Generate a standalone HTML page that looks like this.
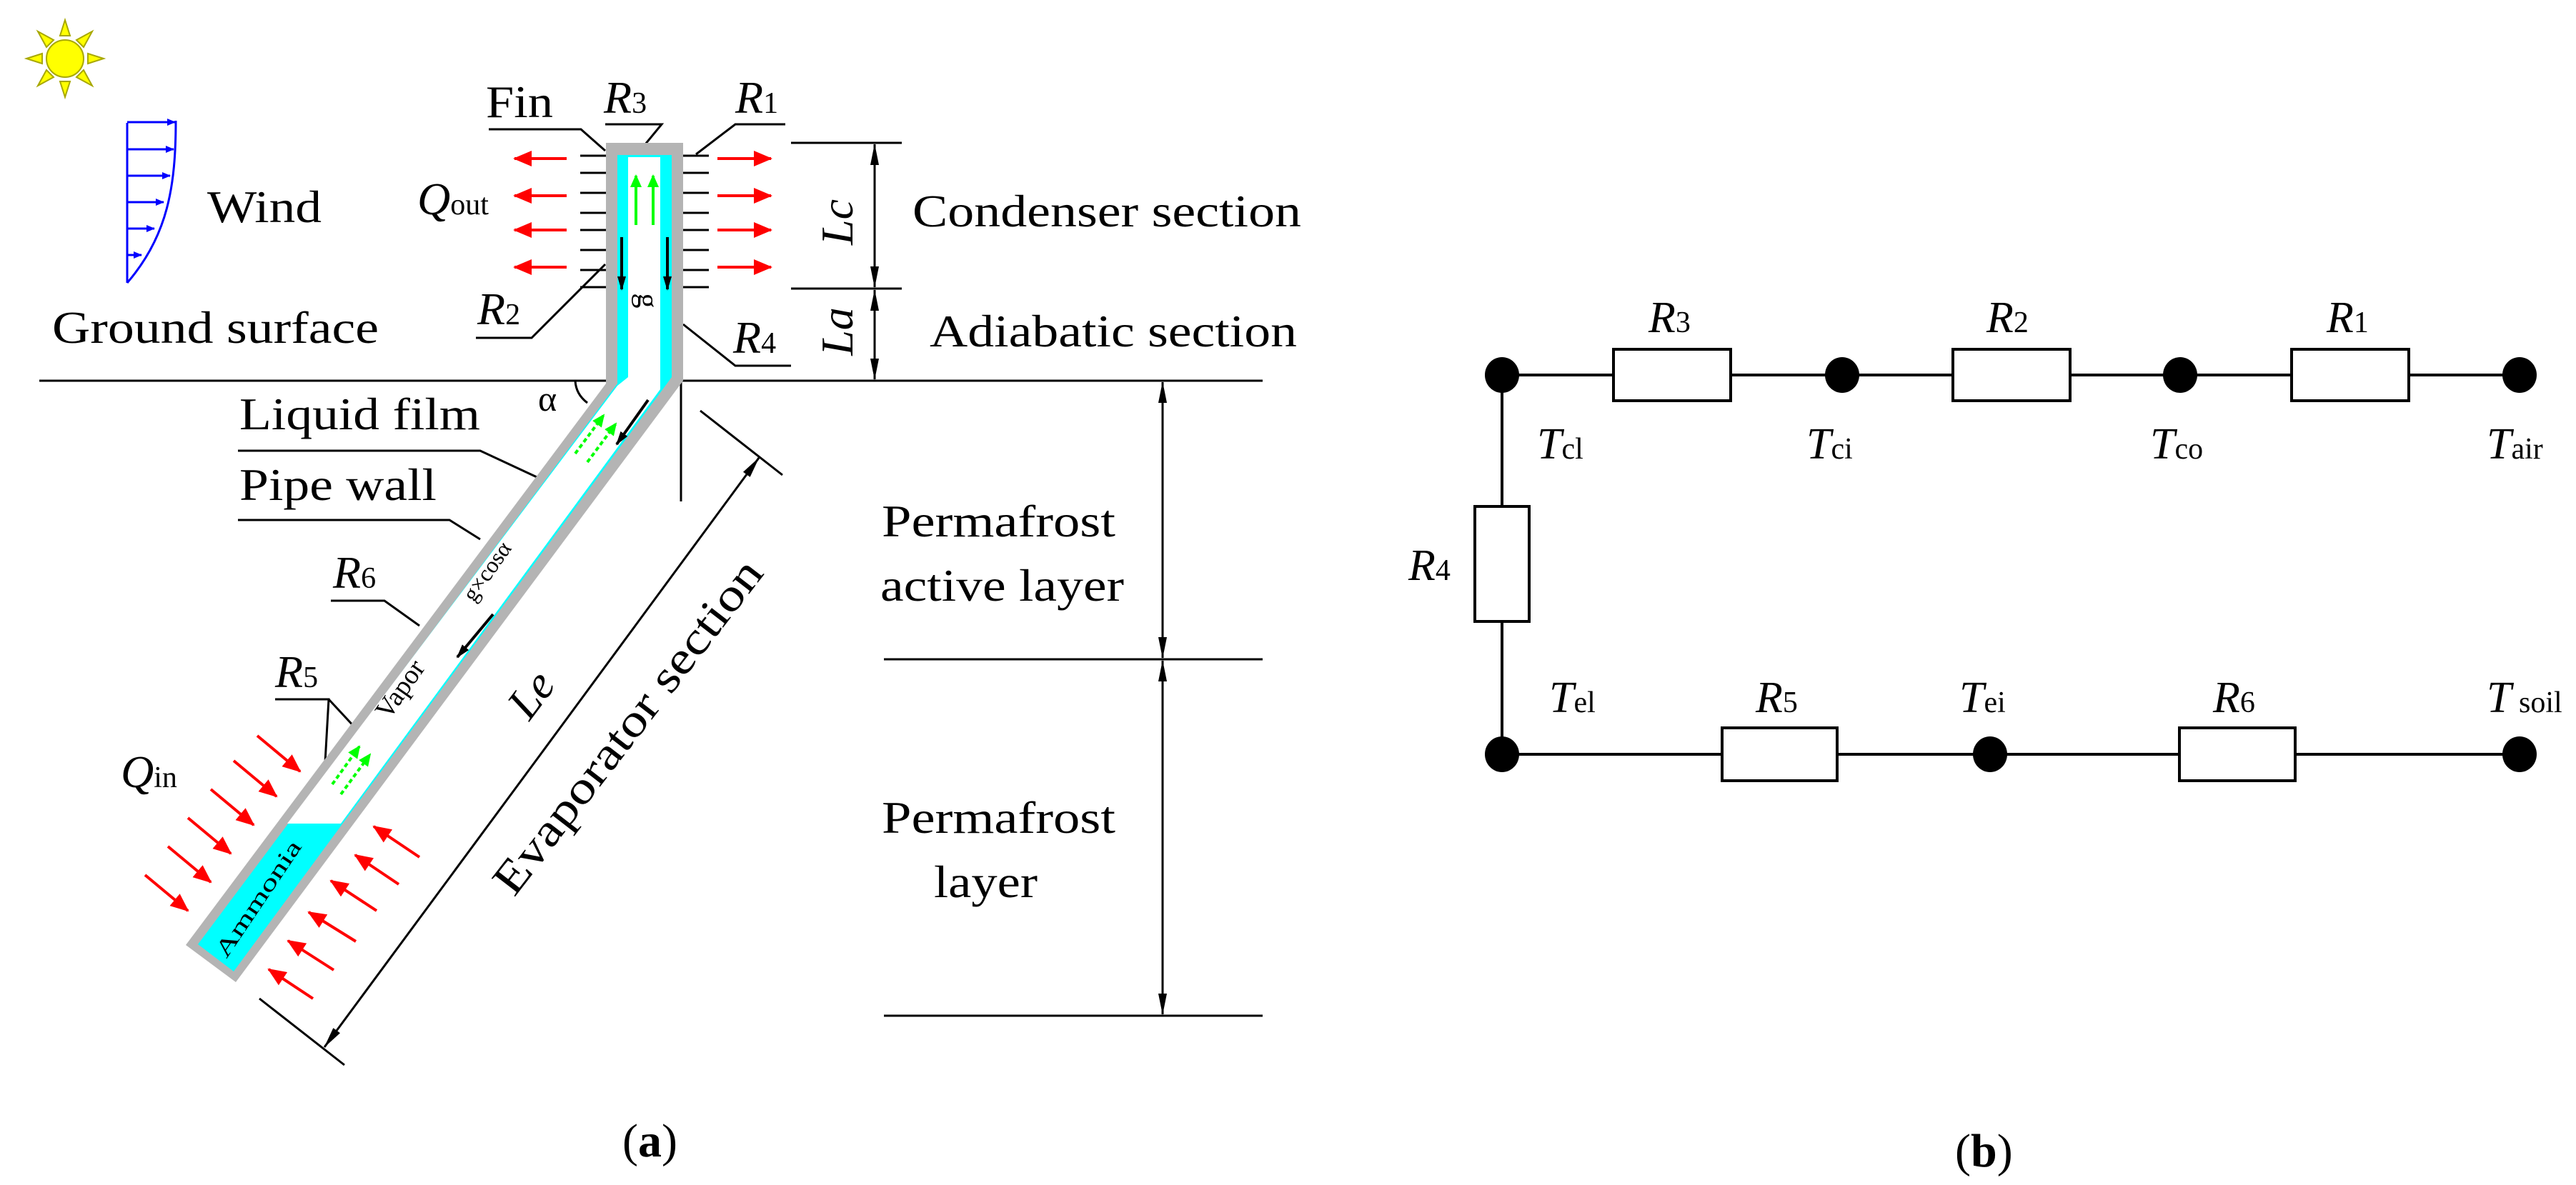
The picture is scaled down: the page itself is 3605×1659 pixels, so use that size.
<!DOCTYPE html>
<html><head><meta charset="utf-8"><style>
html,body{margin:0;padding:0;background:#fff;}
svg{display:block;}
svg text{font-family:"Liberation Serif","DejaVu Serif","Times New Roman",serif;fill:#000;}
.i{font-style:italic;}
</style></head><body>
<svg width="3605" height="1659" viewBox="0 0 3605 1659" xmlns="http://www.w3.org/2000/svg" font-family="Liberation Serif, DejaVu Serif, serif">
<defs>
<marker id="rh" markerUnits="userSpaceOnUse" markerWidth="26" markerHeight="22" refX="24" refY="11" orient="auto"><path d="M0,0 L26,11 L0,22 Z" fill="#ff0000"/></marker>
<marker id="gh" markerUnits="userSpaceOnUse" markerWidth="18" markerHeight="16" refX="16" refY="8" orient="auto"><path d="M0,0 L18,8 L0,16 Z" fill="#00ff00"/></marker>
<marker id="kh" markerUnits="userSpaceOnUse" markerWidth="20" markerHeight="12" refX="18" refY="6" orient="auto"><path d="M0,0 L20,6 L0,12 Z" fill="#000"/></marker>
<marker id="dh" markerUnits="userSpaceOnUse" markerWidth="30" markerHeight="12" refX="29" refY="6" orient="auto"><path d="M0,0 L30,6 L0,12 Z" fill="#000"/></marker>
<marker id="bh" markerUnits="userSpaceOnUse" markerWidth="12" markerHeight="10" refX="11" refY="5" orient="auto"><path d="M0,0 L12,5 L0,10 Z" fill="#0000ff"/></marker>
</defs>

<!-- Sun -->
<g stroke="#a8a800" stroke-width="2" fill="#ffff00">
<path d="M91,28 L84,50 L98,50 Z"/><path d="M91,136 L84,114 L98,114 Z"/>
<path d="M37,82 L59,75 L59,89 Z"/><path d="M145,82 L123,75 L123,89 Z"/>
<path d="M53,44 L75,56 L65,66 Z"/><path d="M129,44 L117,66 L107,56 Z"/>
<path d="M53,120 L65,98 L75,108 Z"/><path d="M129,120 L107,108 L117,98 Z"/>
<circle cx="91" cy="82" r="26"/>
</g>

<!-- Wind -->
<g stroke="#0000ff" stroke-width="3" fill="none">
<line x1="178" y1="172" x2="178" y2="396"/>
<path d="M246,169 C246,260 235,330 178,396"/>
<line x1="178" y1="171" x2="245" y2="171" marker-end="url(#bh)"/>
<line x1="178" y1="209" x2="243" y2="209" marker-end="url(#bh)"/>
<line x1="178" y1="246" x2="238" y2="246" marker-end="url(#bh)"/>
<line x1="178" y1="283" x2="229" y2="283" marker-end="url(#bh)"/>
<line x1="178" y1="320" x2="216" y2="320" marker-end="url(#bh)"/>
<line x1="178" y1="357" x2="198" y2="357" marker-end="url(#bh)"/>
</g>

<g stroke="#000" stroke-width="3" fill="none">
<line x1="55" y1="533" x2="850" y2="533"/>
<line x1="953" y1="533" x2="1767" y2="533"/>
<line x1="953" y1="533" x2="953" y2="702"/>
<line x1="1107" y1="200" x2="1262" y2="200"/>
<line x1="1107" y1="404" x2="1262" y2="404"/>
<line x1="1224" y1="300" x2="1224" y2="202" marker-end="url(#dh)"/>
<line x1="1224" y1="300" x2="1224" y2="402" marker-end="url(#dh)"/>
<line x1="1224" y1="470" x2="1224" y2="406" marker-end="url(#dh)"/>
<line x1="1224" y1="470" x2="1224" y2="531" marker-end="url(#dh)"/>
<line x1="1237" y1="923" x2="1767" y2="923"/>
<line x1="1237" y1="1422" x2="1767" y2="1422"/>
<line x1="1627" y1="720" x2="1627" y2="535" marker-end="url(#dh)"/>
<line x1="1627" y1="720" x2="1627" y2="921" marker-end="url(#dh)"/>
<line x1="1627" y1="1170" x2="1627" y2="925" marker-end="url(#dh)"/>
<line x1="1627" y1="1170" x2="1627" y2="1420" marker-end="url(#dh)"/>
<line x1="363" y1="1398" x2="482" y2="1491"/>
<line x1="980" y1="575" x2="1095" y2="665"/>
<line x1="758" y1="1054" x2="454" y2="1466" marker-end="url(#dh)"/>
<line x1="758" y1="1054" x2="1062" y2="641" marker-end="url(#dh)"/>
<polyline points="684,181 813,181 847,211"/>
<polyline points="847,174 926,174 870,242"/>
<polyline points="1099,174 1029,174 974,216"/>
<polyline points="666,473 744,473 847,370"/>
<polyline points="1107,512 1029,512 956,454"/>
<path d="M805,533 Q806,552 822,564"/>
<polyline points="333,631 672,631 805,693"/>
<polyline points="333,728 629,728 672,755"/>
<polyline points="463,841 538,841 587,876"/>
<polyline points="385,979 460,979 450,1155"/>
<polyline points="460,979 526,1050"/>
<g>
<line x1="812" y1="218" x2="852" y2="218"/><line x1="812" y1="242" x2="852" y2="242"/>
<line x1="812" y1="270" x2="852" y2="270"/><line x1="812" y1="298" x2="852" y2="298"/>
<line x1="812" y1="322" x2="852" y2="322"/><line x1="812" y1="350" x2="852" y2="350"/>
<line x1="812" y1="378" x2="852" y2="378"/><line x1="812" y1="402" x2="852" y2="402"/>
<line x1="953" y1="218" x2="992" y2="218"/><line x1="953" y1="242" x2="992" y2="242"/>
<line x1="953" y1="270" x2="992" y2="270"/><line x1="953" y1="298" x2="992" y2="298"/>
<line x1="953" y1="322" x2="992" y2="322"/><line x1="953" y1="350" x2="992" y2="350"/>
<line x1="953" y1="378" x2="992" y2="378"/><line x1="953" y1="402" x2="992" y2="402"/>
</g>
</g>

<!-- Pipe -->
<polygon points="848,200 956,200 956,533 330,1375 260,1323 848,537" fill="#b4b4b4"/>
<polygon points="864,217 940,217 940,528 327,1360 277,1322 864,537" fill="#00ffff"/>
<polygon points="879,220 924,220 924,545 477,1153 402,1153 864,540 879,528" fill="#fff"/>

<g stroke-width="4" fill="none">
<line x1="890" y1="315" x2="890" y2="246" stroke="#00ff00" marker-end="url(#gh)"/>
<line x1="914" y1="315" x2="914" y2="246" stroke="#00ff00" marker-end="url(#gh)"/>
<line x1="870" y1="332" x2="870" y2="405" stroke="#000" marker-end="url(#kh)"/>
<line x1="934" y1="332" x2="934" y2="405" stroke="#000" marker-end="url(#kh)"/>
<line x1="805" y1="635" x2="845" y2="581" stroke="#00ff00" stroke-dasharray="6 4" marker-end="url(#gh)"/>
<line x1="822" y1="647" x2="862" y2="593" stroke="#00ff00" stroke-dasharray="6 4" marker-end="url(#gh)"/>
<line x1="907" y1="560" x2="863" y2="622" stroke="#000" marker-end="url(#kh)"/>
<line x1="690" y1="860" x2="640" y2="920" stroke="#000" marker-end="url(#kh)"/>
<line x1="465" y1="1098" x2="503" y2="1045" stroke="#00ff00" stroke-dasharray="6 4" marker-end="url(#gh)"/>
<line x1="477" y1="1112" x2="518" y2="1056" stroke="#00ff00" stroke-dasharray="6 4" marker-end="url(#gh)"/>
</g>

<g stroke="#ff0000" stroke-width="4" fill="none">
<line x1="793" y1="222" x2="720" y2="222" marker-end="url(#rh)"/>
<line x1="793" y1="274" x2="720" y2="274" marker-end="url(#rh)"/>
<line x1="793" y1="322" x2="720" y2="322" marker-end="url(#rh)"/>
<line x1="793" y1="374" x2="720" y2="374" marker-end="url(#rh)"/>
<line x1="1004" y1="222" x2="1079" y2="222" marker-end="url(#rh)"/>
<line x1="1004" y1="274" x2="1079" y2="274" marker-end="url(#rh)"/>
<line x1="1004" y1="322" x2="1079" y2="322" marker-end="url(#rh)"/>
<line x1="1004" y1="374" x2="1079" y2="374" marker-end="url(#rh)"/>
<line x1="360" y1="1030" x2="420" y2="1080" marker-end="url(#rh)"/>
<line x1="327" y1="1065" x2="387" y2="1115" marker-end="url(#rh)"/>
<line x1="295" y1="1105" x2="355" y2="1155" marker-end="url(#rh)"/>
<line x1="263" y1="1145" x2="323" y2="1195" marker-end="url(#rh)"/>
<line x1="235" y1="1185" x2="295" y2="1235" marker-end="url(#rh)"/>
<line x1="203" y1="1225" x2="263" y2="1275" marker-end="url(#rh)"/>
<line x1="587" y1="1200" x2="523" y2="1157" marker-end="url(#rh)"/>
<line x1="558" y1="1238" x2="497" y2="1197" marker-end="url(#rh)"/>
<line x1="527" y1="1275" x2="463" y2="1233" marker-end="url(#rh)"/>
<line x1="498" y1="1318" x2="432" y2="1277" marker-end="url(#rh)"/>
<line x1="467" y1="1358" x2="403" y2="1317" marker-end="url(#rh)"/>
<line x1="438" y1="1398" x2="376" y2="1357" marker-end="url(#rh)"/>
</g>

<g font-size="64">
<text x="290" y="311" textLength="160" lengthAdjust="spacingAndGlyphs">Wind</text>
<text x="73" y="480" textLength="457" lengthAdjust="spacingAndGlyphs">Ground surface</text>
<text x="680" y="164" textLength="94" lengthAdjust="spacingAndGlyphs">Fin</text>
<text x="845" y="158"><tspan class="i">R</tspan><tspan font-size="42">3</tspan></text>
<text x="1029" y="158"><tspan class="i">R</tspan><tspan font-size="42">1</tspan></text>
<text x="584" y="300"><tspan class="i">Q</tspan><tspan font-size="42">out</tspan></text>
<text x="668" y="454"><tspan class="i">R</tspan><tspan font-size="42">2</tspan></text>
<text x="1026" y="494"><tspan class="i">R</tspan><tspan font-size="42">4</tspan></text>
<text class="i" x="0" y="0" text-anchor="middle" transform="translate(1193,311) rotate(-90)">Lc</text>
<text class="i" x="0" y="0" text-anchor="middle" transform="translate(1193,464) rotate(-90)">La</text>
<text x="1277" y="317" textLength="544" lengthAdjust="spacingAndGlyphs">Condenser section</text>
<text x="1301" y="485" textLength="514" lengthAdjust="spacingAndGlyphs">Adiabatic section</text>
<text x="753" y="575" font-size="50">α</text>
<text x="335" y="601" textLength="337" lengthAdjust="spacingAndGlyphs">Liquid film</text>
<text x="335" y="700" textLength="276" lengthAdjust="spacingAndGlyphs">Pipe wall</text>
<text x="466" y="823"><tspan class="i">R</tspan><tspan font-size="42">6</tspan></text>
<text x="385" y="962"><tspan class="i">R</tspan><tspan font-size="42">5</tspan></text>
<text x="169" y="1102"><tspan class="i">Q</tspan><tspan font-size="42">in</tspan></text>
<text x="1234" y="751" textLength="327" lengthAdjust="spacingAndGlyphs">Permafrost</text>
<text x="1232" y="841" textLength="341" lengthAdjust="spacingAndGlyphs">active layer</text>
<text x="1234" y="1166" textLength="327" lengthAdjust="spacingAndGlyphs">Permafrost</text>
<text x="1307" y="1256" textLength="145" lengthAdjust="spacingAndGlyphs">layer</text>
<text x="871" y="1619" font-size="66">(<tspan font-weight="bold">a</tspan>)</text>
<text class="i" x="0" y="0" text-anchor="middle" transform="translate(760,985) rotate(-53)">Le</text>
<text x="0" y="0" text-anchor="middle" textLength="574" lengthAdjust="spacingAndGlyphs" transform="translate(895,1030) rotate(-52.3)">Evaporator section</text>
<text x="0" y="0" text-anchor="middle" font-size="38" transform="translate(570,972) rotate(-55)">Vapor</text>
<text x="0" y="0" text-anchor="middle" font-size="32" transform="translate(690,806) rotate(-55)">g×cosα</text>
<text x="0" y="0" text-anchor="middle" font-size="32" fill="#002040" textLength="190" lengthAdjust="spacingAndGlyphs" transform="translate(370,1264) rotate(-56)">Ammonia</text>
<text x="0" y="0" text-anchor="middle" font-size="42" transform="translate(893,421) rotate(90)">g</text>
</g>

<!-- Part (b) -->
<g stroke="#000" stroke-width="4" fill="none">
<line x1="2102" y1="525" x2="3526" y2="525"/>
<line x1="2102" y1="525" x2="2102" y2="1056"/>
<line x1="2102" y1="1056" x2="3526" y2="1056"/>
</g>
<g stroke="#000" stroke-width="4" fill="#fff">
<rect x="2258" y="489" width="164" height="72"/>
<rect x="2733" y="489" width="164" height="72"/>
<rect x="3207" y="489" width="164" height="72"/>
<rect x="2064" y="709" width="76" height="161"/>
<rect x="2410" y="1019" width="161" height="74"/>
<rect x="3050" y="1019" width="162" height="74"/>
</g>
<g fill="#000">
<ellipse cx="2102" cy="525" rx="24" ry="25"/>
<ellipse cx="2578" cy="525" rx="24" ry="25"/>
<ellipse cx="3051" cy="525" rx="24" ry="25"/>
<ellipse cx="3526" cy="525" rx="24" ry="25"/>
<ellipse cx="2102" cy="1056" rx="24" ry="25"/>
<ellipse cx="2785" cy="1056" rx="24" ry="25"/>
<ellipse cx="3526" cy="1056" rx="24" ry="25"/>
</g>
<g font-size="62">
<text x="2307" y="465"><tspan class="i">R</tspan><tspan font-size="42">3</tspan></text>
<text x="2780" y="465"><tspan class="i">R</tspan><tspan font-size="42">2</tspan></text>
<text x="3256" y="465"><tspan class="i">R</tspan><tspan font-size="42">1</tspan></text>
<text x="2151" y="642"><tspan class="i">T</tspan><tspan font-size="42">cl</tspan></text>
<text x="2528" y="642"><tspan class="i">T</tspan><tspan font-size="42">ci</tspan></text>
<text x="3009" y="642"><tspan class="i">T</tspan><tspan font-size="42">co</tspan></text>
<text x="3480" y="642"><tspan class="i">T</tspan><tspan font-size="42">air</tspan></text>
<text x="1971" y="812"><tspan class="i">R</tspan><tspan font-size="42">4</tspan></text>
<text x="2168" y="997"><tspan class="i">T</tspan><tspan font-size="42">el</tspan></text>
<text x="2457" y="997"><tspan class="i">R</tspan><tspan font-size="42">5</tspan></text>
<text x="2742" y="997"><tspan class="i">T</tspan><tspan font-size="42">ei</tspan></text>
<text x="3097" y="997"><tspan class="i">R</tspan><tspan font-size="42">6</tspan></text>
<text x="3480" y="997"><tspan class="i">T</tspan><tspan font-size="42"> soil</tspan></text>
<text x="2736" y="1633" font-size="66">(<tspan font-weight="bold">b</tspan>)</text>
</g>
</svg>
</body></html>
